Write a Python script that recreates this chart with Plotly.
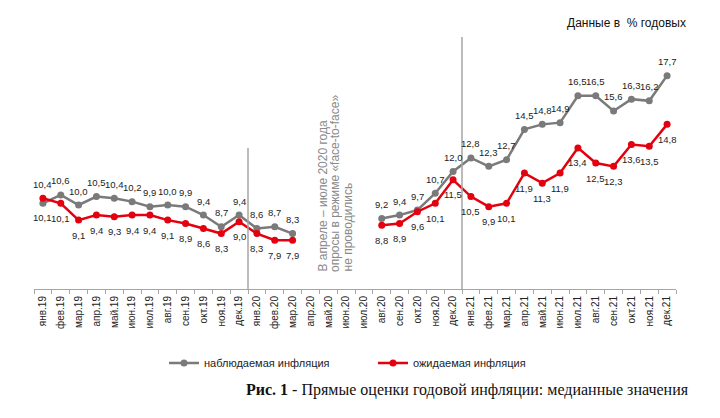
import plotly.graph_objects as go

months = ["янв.19","фев.19","мар.19","апр.19","май.19","июн.19","июл.19","авг.19","сен.19","окт.19","ноя.19","дек.19",
          "янв.20","фев.20","мар.20","апр.20","май.20","июн.20","июл.20","авг.20","сен.20","окт.20","ноя.20","дек.20",
          "янв.21","фев.21","мар.21","апр.21","май.21","июн.21","июл.21","авг.21","сен.21","окт.21","ноя.21","дек.21"]

observed = [10.1, 10.6, 10.0, 10.5, 10.4, 10.2, 9.9, 10.0, 9.9, 9.4, 8.7, 9.4,
            8.6, 8.7, 8.3, None, None, None, None, 9.2, 9.4, 9.7, 10.7, 12.0,
            12.8, 12.3, 12.7, 14.5, 14.8, 14.9, 16.5, 16.5, 15.6, 16.3, 16.2, 17.7]

expected = [10.4, 10.1, 9.1, 9.4, 9.3, 9.4, 9.4, 9.1, 8.9, 8.6, 8.3, 9.0,
            8.3, 7.9, 7.9, None, None, None, None, 8.8, 8.9, 9.6, 10.1, 11.5,
            10.5, 9.9, 10.1, 11.9, 11.3, 11.9, 13.4, 12.5, 12.3, 13.6, 13.5, 14.8]

name_obs = "наблюдаемая инфляция"
name_exp = "ожидаемая инфляция"
note_lines = ["В апреле – июле 2020 года", "опросы в режиме «face-to-face»", "не проводились"]
units_text = "Данные в  % годовых"
caption_text = "<b>Рис. 1</b> - Прямые оценки годовой инфляции: медианные значения"

GRAY = "#7a7a7a"
RED = "#e3000f"
FONT = "Liberation Sans, Arial, sans-serif"

# page body has an 8px margin: figure coordinates = window coordinates - 8
W, H = 704, 402
L, R, T, B = 26, 36, 29, 121
PW, PH = W - L - R, H - T - B

def px_x(x):  # window pixel -> paper x
    return (x - 8 - L) / PW

def px_y(y):  # window pixel -> paper y
    return (H - B - (y - 8)) / PH

fig = go.Figure()
fig.add_trace(go.Scatter(x=months, y=observed, mode="lines+markers", name=name_obs,
                         line=dict(color=GRAY, width=2.5), marker=dict(color=GRAY, size=7),
                         connectgaps=False, legend="legend"))
fig.add_trace(go.Scatter(x=months, y=expected, mode="lines+markers", name=name_exp,
                         line=dict(color=RED, width=2.5), marker=dict(color=RED, size=7),
                         connectgaps=False, legend="legend2"))

def fmt(v):
    return f"{v:.1f}".replace(".", ",")

annotations = []
for m, o, e in zip(months, observed, expected):
    if o is None:
        continue
    obs_up = o >= e
    annotations.append(dict(x=m, y=o, text=fmt(o), showarrow=False,
                            yshift=14 if obs_up else -14,
                            font=dict(family=FONT, size=9.5, color="#222")))
    annotations.append(dict(x=m, y=e, text=fmt(e), showarrow=False,
                            yshift=-15 if obs_up else 14,
                            font=dict(family=FONT, size=9.5, color="#222")))

for k, line in enumerate(note_lines):
    annotations.append(dict(x=px_x(322 + 12.5 * k), y=px_y(274), xref="paper", yref="paper",
                            text=line, showarrow=False, textangle=-90,
                            xanchor="center", yanchor="bottom",
                            font=dict(family=FONT, size=12, color="#8a8a8a")))
annotations.append(dict(x=px_x(688), y=px_y(23), xref="paper", yref="paper",
                        text=units_text, showarrow=False, xanchor="right", yanchor="middle",
                        font=dict(family=FONT, size=12, color="#111")))
annotations.append(dict(x=px_x(691), y=px_y(390), xref="paper", yref="paper",
                        text=caption_text, showarrow=False, xanchor="right", yanchor="middle",
                        font=dict(family="Liberation Serif, Times New Roman, serif", size=16, color="#111")))

shapes = [
    dict(type="line", xref="x", yref="y", x0=11.5, x1=11.5, y0=4.55, y1=13.4,
         line=dict(color="#a6a6a6", width=1.5)),
    dict(type="line", xref="x", yref="y", x0=23.5, x1=23.5, y0=4.55, y1=20,
         line=dict(color="#a6a6a6", width=1.5)),
]

fig.update_layout(
    width=W, height=H,
    margin=dict(l=L, r=R, t=T, b=B, autoexpand=False),
    paper_bgcolor="white", plot_bgcolor="white",
    font=dict(family=FONT, color="#222"),
    xaxis=dict(type="category", range=[-0.5, 35.5], tickangle=-90, tickson="boundaries",
               ticks="outside", ticklen=4, tickcolor="#a6a6a6", showline=True, linecolor="#a6a6a6",
               linewidth=1, showgrid=False, zeroline=False, tickfont=dict(size=10, color="#222"),
               ticklabelstandoff=2, automargin=False),
    yaxis=dict(range=[5, 20], visible=False, showgrid=False, automargin=False),
    legend=dict(x=(164 - 8) / W, y=1 - (363 - 8) / H, xref="container", yref="container",
                xanchor="left", yanchor="middle", font=dict(size=11, color="#222"),
                bgcolor="rgba(0,0,0,0)"),
    legend2=dict(x=(373 - 8) / W, y=1 - (363 - 8) / H, xref="container", yref="container",
                 xanchor="left", yanchor="middle", font=dict(size=11, color="#222"),
                 bgcolor="rgba(0,0,0,0)"),
    annotations=annotations,
    shapes=shapes,
    showlegend=True,
)

fig.write_html("out.html")
